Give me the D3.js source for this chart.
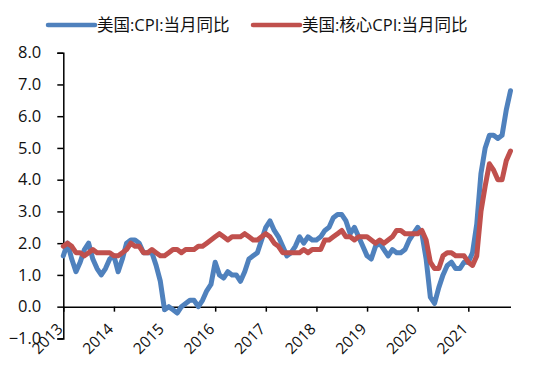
<!DOCTYPE html>
<meta charset="utf-8">
<body style="margin:0;background:#fff">
<style>
  text { font-family: "Open Sans", "Noto Sans CJK SC", sans-serif; fill: #111; }
  .legend { font-size: 16.5px; font-family: "Open Sans", "Noto Sans CJK SC", sans-serif; }
  .series { fill: none; stroke-width: 5; stroke-linejoin: round; stroke-linecap: round; }
</style>
<svg width="550" height="371"></svg>
<script src="https://d3js.org/d3.v7.min.js"></script>
<script>

// monthly data, Jan 2013 .. Nov 2021
var years = ["2013", "2014", "2015", "2016", "2017", "2018", "2019", "2020", "2021"];
var cpi = [
  1.6, 2.0, 1.5, 1.1, 1.4, 1.8, 2.0, 1.5, 1.2, 1.0, 1.2, 1.5,
  1.6, 1.1, 1.5, 2.0, 2.1, 2.1, 2.0, 1.7, 1.7, 1.7, 1.3, 0.8,
  -0.1, 0.0, -0.1, -0.2, 0.0, 0.1, 0.2, 0.2, 0.0, 0.2, 0.5, 0.7,
  1.4, 1.0, 0.9, 1.1, 1.0, 1.0, 0.8, 1.1, 1.5, 1.6, 1.7, 2.1,
  2.5, 2.7, 2.4, 2.2, 1.9, 1.6, 1.7, 1.9, 2.2, 2.0, 2.2, 2.1,
  2.1, 2.2, 2.4, 2.5, 2.8, 2.9, 2.9, 2.7, 2.3, 2.5, 2.2, 1.9,
  1.6, 1.5, 1.9, 2.0, 1.8, 1.6, 1.8, 1.7, 1.7, 1.8, 2.1, 2.3,
  2.5, 2.3, 1.5, 0.3, 0.1, 0.6, 1.0, 1.3, 1.4, 1.2, 1.2, 1.4,
  1.4, 1.7, 2.6, 4.2, 5.0, 5.4, 5.4, 5.3, 5.4, 6.2, 6.8
];
var coreCpi = [
  1.9, 2.0, 1.9, 1.7, 1.7, 1.6, 1.7, 1.8, 1.7, 1.7, 1.7, 1.7,
  1.6, 1.6, 1.7, 1.8, 2.0, 1.9, 1.9, 1.7, 1.7, 1.8, 1.7, 1.6,
  1.6, 1.7, 1.8, 1.8, 1.7, 1.8, 1.8, 1.8, 1.9, 1.9, 2.0, 2.1,
  2.2, 2.3, 2.2, 2.1, 2.2, 2.2, 2.2, 2.3, 2.2, 2.1, 2.1, 2.2,
  2.3, 2.2, 2.0, 1.9, 1.7, 1.7, 1.7, 1.7, 1.7, 1.8, 1.7, 1.8,
  1.8, 1.8, 2.1, 2.1, 2.2, 2.3, 2.4, 2.2, 2.2, 2.1, 2.2, 2.2,
  2.2, 2.1, 2.0, 2.1, 2.0, 2.1, 2.2, 2.4, 2.4, 2.3, 2.3, 2.3,
  2.3, 2.4, 2.1, 1.4, 1.2, 1.2, 1.6, 1.7, 1.7, 1.6, 1.6, 1.6,
  1.4, 1.3, 1.6, 3.0, 3.8, 4.5, 4.3, 4.0, 4.0, 4.6, 4.9
];
var yTicks = [-1, 0, 1, 2, 3, 4, 5, 6, 7, 8];
var seriesNames = ["美国:CPI:当月同比", "美国:核心CPI:当月同比"];
var colors = ["#4F81BD", "#C0504D"];

var svg = d3.select("svg");

var x = d3.scaleLinear().domain([0, cpi.length - 1]).range([63.3, 510.5]);
var y = d3.scaleLinear().domain([-1, 8]).range([338.4, 52.7]);

// y axis
var yAxis = svg.append("g").attr("transform", "translate(" + x(0) + ",0)")
    .call(d3.axisLeft(y).tickValues(yTicks).tickSize(6).tickPadding(16)
      .tickFormat(d3.format(".1f")));
yAxis.select(".domain").attr("stroke", "#000").attr("stroke-width", 1.5);
yAxis.selectAll(".tick line").attr("stroke", "#000").attr("stroke-width", 1.5);
yAxis.selectAll(".tick text").attr("fill", "#111")
    .style("font-size", "16.5px").attr("font-family", null);

// x axis at zero
var xAxis = svg.append("g").attr("transform", "translate(0," + y(0) + ")")
    .call(d3.axisBottom(x).tickValues(years.map(function (d, i) { return i * 12; }))
      .tickSize(5).tickSizeOuter(0).tickFormat(function (d, i) { return years[i]; }));
xAxis.select(".domain").attr("stroke", "#000").attr("stroke-width", 1.5);
xAxis.selectAll(".tick line").attr("stroke", "#000").attr("stroke-width", 1.5);
xAxis.selectAll(".tick text")
    .attr("fill", "#111")
    .attr("font-family", null)
    .style("font-size", "15.5px")
    .attr("text-anchor", "end")
    .attr("y", 0).attr("dy", "0.35em")
    .attr("transform", "translate(-4,19.5) rotate(-45)");

// lines
var line = d3.line().x(function (d, i) { return x(i); }).y(function (d) { return y(d); });
[cpi, coreCpi].forEach(function (s, k) {
  svg.append("path").attr("class", "series").attr("stroke", colors[k]).attr("d", line(s));
});

// legend
var legendX = [48, 253];
seriesNames.forEach(function (name, k) {
  var g = svg.append("g").attr("transform", "translate(" + legendX[k] + ",25)");
  g.append("line").attr("x1", 0).attr("x2", 47).attr("stroke", colors[k])
      .attr("stroke-width", 4.5).attr("stroke-linecap", "round");
  g.append("text").attr("class", "legend").attr("x", 49).attr("dy", "0.35em").text(name);
});
</script>
</body>
